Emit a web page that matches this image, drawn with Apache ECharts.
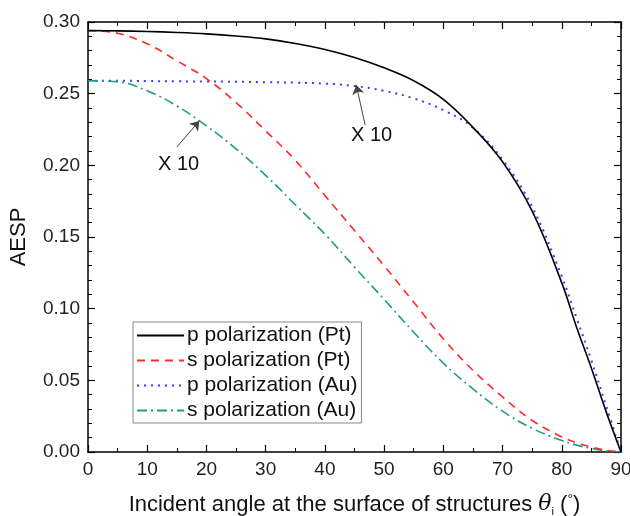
<!DOCTYPE html>
<html>
<head>
<meta charset="utf-8">
<script src="https://cdn.jsdelivr.net/npm/echarts@6/dist/echarts.min.js"></script>
<style>html,body{margin:0;padding:0;background:#fff;}#c{width:630px;height:516px;}</style>
</head>
<body>
<div id="c"></div>
<script>
var angles = [0,5,10,15,20,25,30,35,40,45,50,55,60,65,70,75,80,82.5,85,87.5,90];
var pPt = [0.2940,0.2938,0.2934,0.2927,0.2917,0.2902,0.2882,0.2850,0.2808,0.2752,0.2680,0.2590,0.2460,0.2265,0.2025,0.1680,0.1180,0.0870,0.0585,0.0280,0];
var sPt = [0.2940,0.2922,0.2848,0.2730,0.2605,0.2438,0.2240,0.2035,0.1790,0.1545,0.1300,0.1045,0.0790,0.0570,0.0385,0.0220,0.0105,0.0065,0.0035,0.0012,0];
var pAu = [0.2590,0.2590,0.2588,0.2586,0.2585,0.2583,0.2580,0.2577,0.2570,0.2553,0.2520,0.2467,0.2385,0.2262,0.2040,0.1710,0.1225,0.0935,0.0640,0.0320,0];
var sAu = [0.2590,0.2583,0.2520,0.2415,0.2275,0.2115,0.1930,0.1725,0.1520,0.1290,0.1065,0.0835,0.0620,0.0440,0.0285,0.0165,0.0080,0.0048,0.0025,0.0008,0];
var names = ['p polarization (Pt)','s polarization (Pt)','p polarization (Au)','s polarization (Au)'];
var xTicks = [0,10,20,30,40,50,60,70,80,90];
var yTicks = ['0.00','0.05','0.10','0.15','0.20','0.25','0.30'];
// annotation anchors (data coords)
var ann1 = {from:[15.0,0.2128], to:[18.8,0.2310], text:[15.3,0.2005], label:'X 10'};
var ann2 = {from:[46.8,0.2280], to:[45.3,0.2560], text:[47.9,0.2210], label:'X 10'};

function pairs(ys){ return angles.map(function(a,i){ return [a, ys[i]]; }); }
var FONT = '"Liberation Sans", Arial, sans-serif';

function annMark(a){
  return {
    markLine: {
      silent: true, animation: false,
      symbol: ['none','arrow'], symbolSize: 9,
      lineStyle: {color:'#444', width:1, type:'solid'},
      itemStyle: {color:'#111'},
      label: {show:false},
      data: [[{coord:a.from},{coord:a.to}]]
    },
    markPoint: {
      silent: true, animation: false,
      symbol: 'rect', symbolSize: 1,
      itemStyle: {color:'rgba(0,0,0,0)'},
      label: {show:true, position:'inside', formatter:a.label, color:'#111', fontSize:20, fontFamily:FONT},
      data: [{coord:a.text}]
    }
  };
}

var chart = echarts.init(document.getElementById('c'), null, {renderer:'canvas'});
var axisCommon = {
  type:'value',
  axisLine:{show:true, onZero:false, lineStyle:{color:'#000', width:1.5}},
  axisTick:{show:true, inside:true, length:7, lineStyle:{color:'#000', width:1.2}},
  splitLine:{show:false}
};
var s0 = {name:names[0], type:'line', data:pairs(pPt), symbol:'none', smooth:0.4,
  lineStyle:{color:'#000', width:1.6, type:'solid'}, itemStyle:{color:'#000'}, z:5};
var s1 = {name:names[1], type:'line', data:pairs(sPt), symbol:'none', smooth:0.4,
  lineStyle:{color:'#ff2a2a', width:1.6, type:[8,6]}, itemStyle:{color:'#ff2a2a'}, z:4};
var s2 = Object.assign({name:names[2], type:'line', data:pairs(pAu), symbol:'none', smooth:0.4,
  lineStyle:{color:'#3b3bff', width:2, type:[2,5]}, itemStyle:{color:'#3b3bff'}, z:3}, annMark(ann2));
var s3 = Object.assign({name:names[3], type:'line', data:pairs(sAu), symbol:'none', smooth:0.4,
  lineStyle:{color:'#1f9a8c', width:1.6, type:[10,4,2,4]}, itemStyle:{color:'#1f9a8c'}, z:3}, annMark(ann1));

chart.setOption({
  animation:false,
  backgroundColor:'#fff',
  textStyle:{fontFamily:FONT},
  grid:{left:88, right:9, top:22, bottom:64, containLabel:false, outerBoundsMode:'none'},
  legend:{
    data:names, orient:'vertical', left:133, top:322,
    itemWidth:47, itemHeight:14, itemGap:4,
    itemStyle:{opacity:0},
    backgroundColor:'#fff', borderColor:'#888', borderWidth:1, borderRadius:0,
    padding:[3,4,2,3],
    textStyle:{fontSize:21, color:'#111', fontFamily:FONT, lineHeight:21, padding:[0,0,0,-2]}
  },
  xAxis:[
    Object.assign({}, axisCommon, {
      position:'bottom', min:0, max:90, interval:10,
      minorTick:{show:true, splitNumber:2, length:4, lineStyle:{color:'#000', width:1}},
      axisLabel:{show:true, fontSize:19, color:'#222', margin:8, fontFamily:FONT,
        formatter:function(v){ return xTicks.indexOf(v) >= 0 ? String(v) : ''; }},
      name:'Incident angle at the surface of structures {it|θ}{sub|i} ({sup|°})',
      nameLocation:'middle', nameGap:40,
      nameTextStyle:{fontSize:22, color:'#111', fontFamily:FONT,
        rich:{
          it:{fontSize:22, fontStyle:'italic', fontFamily:'"DejaVu Serif", serif', color:'#111'},
          sub:{fontSize:11, color:'#111', padding:[14,0,0,0]},
          sup:{fontSize:14, color:'#111', padding:[0,0,8,0]}
        }}
    }),
    Object.assign({}, axisCommon, {
      position:'top', min:0, max:90, interval:10,
      minorTick:{show:true, splitNumber:2, length:4, lineStyle:{color:'#000', width:1}},
      axisLabel:{show:false}
    })
  ],
  yAxis:[
    Object.assign({}, axisCommon, {
      position:'left', min:0, max:0.3, interval:0.05,
      minorTick:{show:true, splitNumber:5, length:4, lineStyle:{color:'#000', width:1}},
      axisLabel:{show:true, fontSize:19, color:'#222', margin:8, fontFamily:FONT,
        formatter:function(v){ return yTicks[Math.round(v/0.05)]; }},
      name:'AESP', nameLocation:'middle', nameGap:58, nameRotate:90,
      nameTextStyle:{fontSize:22, color:'#111', fontFamily:FONT}
    }),
    Object.assign({}, axisCommon, {
      position:'right', min:0, max:0.3, interval:0.05,
      minorTick:{show:true, splitNumber:5, length:4, lineStyle:{color:'#000', width:1}},
      axisLabel:{show:false}
    })
  ],
  series:[s0, s1, s2, s3]
});
</script>
</body>
</html>
